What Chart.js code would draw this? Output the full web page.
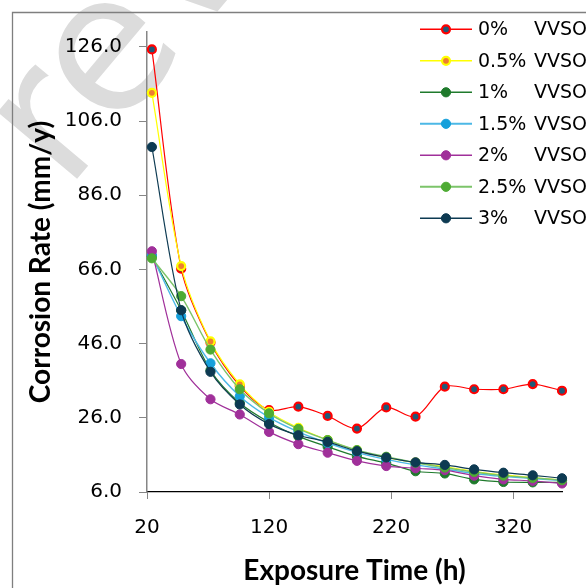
<!DOCTYPE html>
<html>
<head>
<meta charset="utf-8">
<script src="https://cdn.jsdelivr.net/npm/chart.js@4/dist/chart.umd.min.js"></script>
<style>
html,body{margin:0;padding:0;background:#fff;}
#wrap{position:relative;width:586px;height:588px;}
</style>
</head>
<body>
<div id="wrap"><canvas id="chart"></canvas></div>
<script>
// exposure time (h)
const hours = [24, 48, 72, 96, 120, 144, 168, 192, 216, 240, 264, 288, 312, 336, 360];

// corrosion rate (mm/y) per VVSO concentration
const vvso0   = [125.3, 66.2, 46.3, 34.6, 28.1, 29.0, 26.5, 23.1, 28.8, 26.3, 34.4, 33.7, 33.7, 35.1, 33.3];
const vvso05  = [113.6, 66.9, 46.6, 35.0, 27.6, 23.3, 20.0, 17.2, 15.3, 13.9, 12.8, 11.6, 10.6, 9.9, 9.2];
const vvso1   = [69.5, 55.0, 38.8, 30.0, 24.8, 21.0, 18.2, 15.6, 13.8, 11.6, 11.0, 9.4, 8.7, 8.6, 8.6];
const vvso15  = [69.8, 53.4, 40.7, 31.8, 26.1, 22.2, 19.2, 16.7, 14.8, 13.3, 12.2, 11.0, 10.2, 9.6, 9.1];
const vvso2   = [70.9, 40.5, 31.0, 26.9, 22.2, 18.9, 16.6, 14.4, 13.0, 12.4, 11.9, 10.4, 9.4, 9.0, 8.3];
const vvso25  = [69.0, 58.8, 44.4, 33.7, 27.2, 23.0, 20.0, 17.3, 15.5, 13.9, 12.6, 11.4, 10.4, 9.8, 9.2];
const vvso3   = [99.0, 55.0, 38.4, 29.6, 24.3, 21.3, 19.5, 17.0, 15.3, 14.0, 13.3, 12.1, 11.2, 10.5, 9.7];

const seriesNames = ["0%", "0.5%", "1%", "1.5%", "2%", "2.5%", "3%"];
const seriesData = [vvso0, vvso05, vvso1, vvso15, vvso2, vvso25, vvso3];
const xTicks = [20, 120, 220, 320];
const yTicks = [6, 26, 46, 66, 86, 106, 126];

// styles
const lineColors  = ["#ff0000", "#ffff00", "#1f7a2c", "#4cb8e6", "#a0309a", "#7cc46a", "#0d3a52"];
const fillColors  = ["#1f5a78", "#ed7d31", "#1f7a2c", "#16a0db", "#a0309a", "#4eab34", "#0d3a52"];
const ringColors  = ["#ff0000", "#ffff00", "#1f7a2c", "#16a0db", "#a0309a", "#4eab34", "#0d3a52"];

const datasets = seriesData.map((arr, i) => {
    const ringed = i < 2;
    return {
        label: seriesNames[i] + " VVSO",
        data: hours.map((h, k) => ({x: h, y: arr[k]})),
        borderColor: lineColors[i],
        borderWidth: (i === 3 || i === 5) ? 1.4 : 1.2,
        pointBackgroundColor: fillColors[i],
        pointBorderColor: ringColors[i],
        pointBorderWidth: ringed ? 2.2 : 1,
        pointRadius: ringed ? 4 : 4.6,
        tension: 0.3,
        order: 6 - i,
        clip: false
    };
});

// watermark + frame drawn behind the chart
const backdrop = {
    id: "backdrop",
    beforeDraw(chart){
        const ctx = chart.ctx;
        ctx.save();
        ctx.fillStyle = "#dcdcdc";
        ctx.font = "190px 'DejaVu Sans'";
        ctx.translate(66, 192);
        ctx.rotate(-50 * Math.PI / 180);
        ctx.fillText("review", 0, 0);
        ctx.restore();
        ctx.save();
        ctx.strokeStyle = "#7f7f7f";
        ctx.lineWidth = 1.3;
        ctx.beginPath();
        ctx.moveTo(12.5, 588);
        ctx.lineTo(12.5, 12.5);
        ctx.lineTo(586, 12.5);
        ctx.stroke();
        ctx.restore();
    }
};

// legend in the upper right of the plot
const sideLegend = {
    id: "sideLegend",
    afterDraw(chart){
        const ctx = chart.ctx;
        ctx.save();
        ctx.font = "19px 'DejaVu Sans'";
        ctx.textBaseline = "middle";
        seriesNames.forEach((name, i) => {
            const y = 29.3 + 31.5 * i;
            ctx.strokeStyle = lineColors[i];
            ctx.lineWidth = (i === 3 || i === 5) ? 2 : 1.4;
            ctx.beginPath();
            ctx.moveTo(420, y);
            ctx.lineTo(472, y);
            ctx.stroke();
            const ringed = i < 2;
            ctx.beginPath();
            ctx.arc(446, y, ringed ? 4 : 4.6, 0, Math.PI * 2);
            ctx.fillStyle = fillColors[i];
            ctx.fill();
            ctx.lineWidth = ringed ? 2.2 : 1;
            ctx.strokeStyle = ringColors[i];
            ctx.stroke();
            ctx.fillStyle = "#000";
            ctx.fillText(name, 478, y + 1);
            ctx.fillText("VVSO", 534, y + 1);
        });
        ctx.restore();
    }
};

new Chart(document.getElementById("chart"), {
    type: "line",
    data: {datasets: datasets},
    plugins: [backdrop, sideLegend],
    options: {
        responsive: true,
        maintainAspectRatio: false,
        animation: false,
        layout: {padding: {top: 32, right: 24, left: 0, bottom: 0}},
        plugins: {legend: {display: false}, tooltip: {enabled: false}},
        scales: {
            x: {
                type: "linear",
                min: 20, max: 360,
                afterFit: s => { s.height = 96; },
                afterBuildTicks: s => { s.ticks = xTicks.map(v => ({value: v})); },
                grid: {drawOnChartArea: false, drawTicks: true, tickLength: 7, color: "#868686"},
                border: {display: true, color: "#000", width: 1.3},
                ticks: {font: {family: "DejaVu Sans", size: 20}, color: "#000", padding: 17, maxRotation: 0},
                title: {display: true, text: "Exposure Time (h)", font: {family: "Lato", size: 28, weight: "bold"}, color: "#000", padding: {top: 0, bottom: 0}}
            },
            y: {
                min: 6, max: 130,
                afterFit: s => { s.width = 147; },
                afterBuildTicks: s => { s.ticks = yTicks.map(v => ({value: v})); },
                grid: {drawOnChartArea: false, drawTicks: true, tickLength: 8, color: "#868686"},
                border: {display: true, color: "#868686", width: 1.5},
                ticks: {font: {family: "DejaVu Sans", size: 20}, color: "#000", padding: 17, callback: v => v.toFixed(1)},
                title: {display: true, text: "Corrosion Rate (mm/y)", font: {family: "Lato", size: 28, weight: "bold"}, color: "#000", padding: {top: 24, bottom: 0}}
            }
        }
    }
});
</script>
</body>
</html>
